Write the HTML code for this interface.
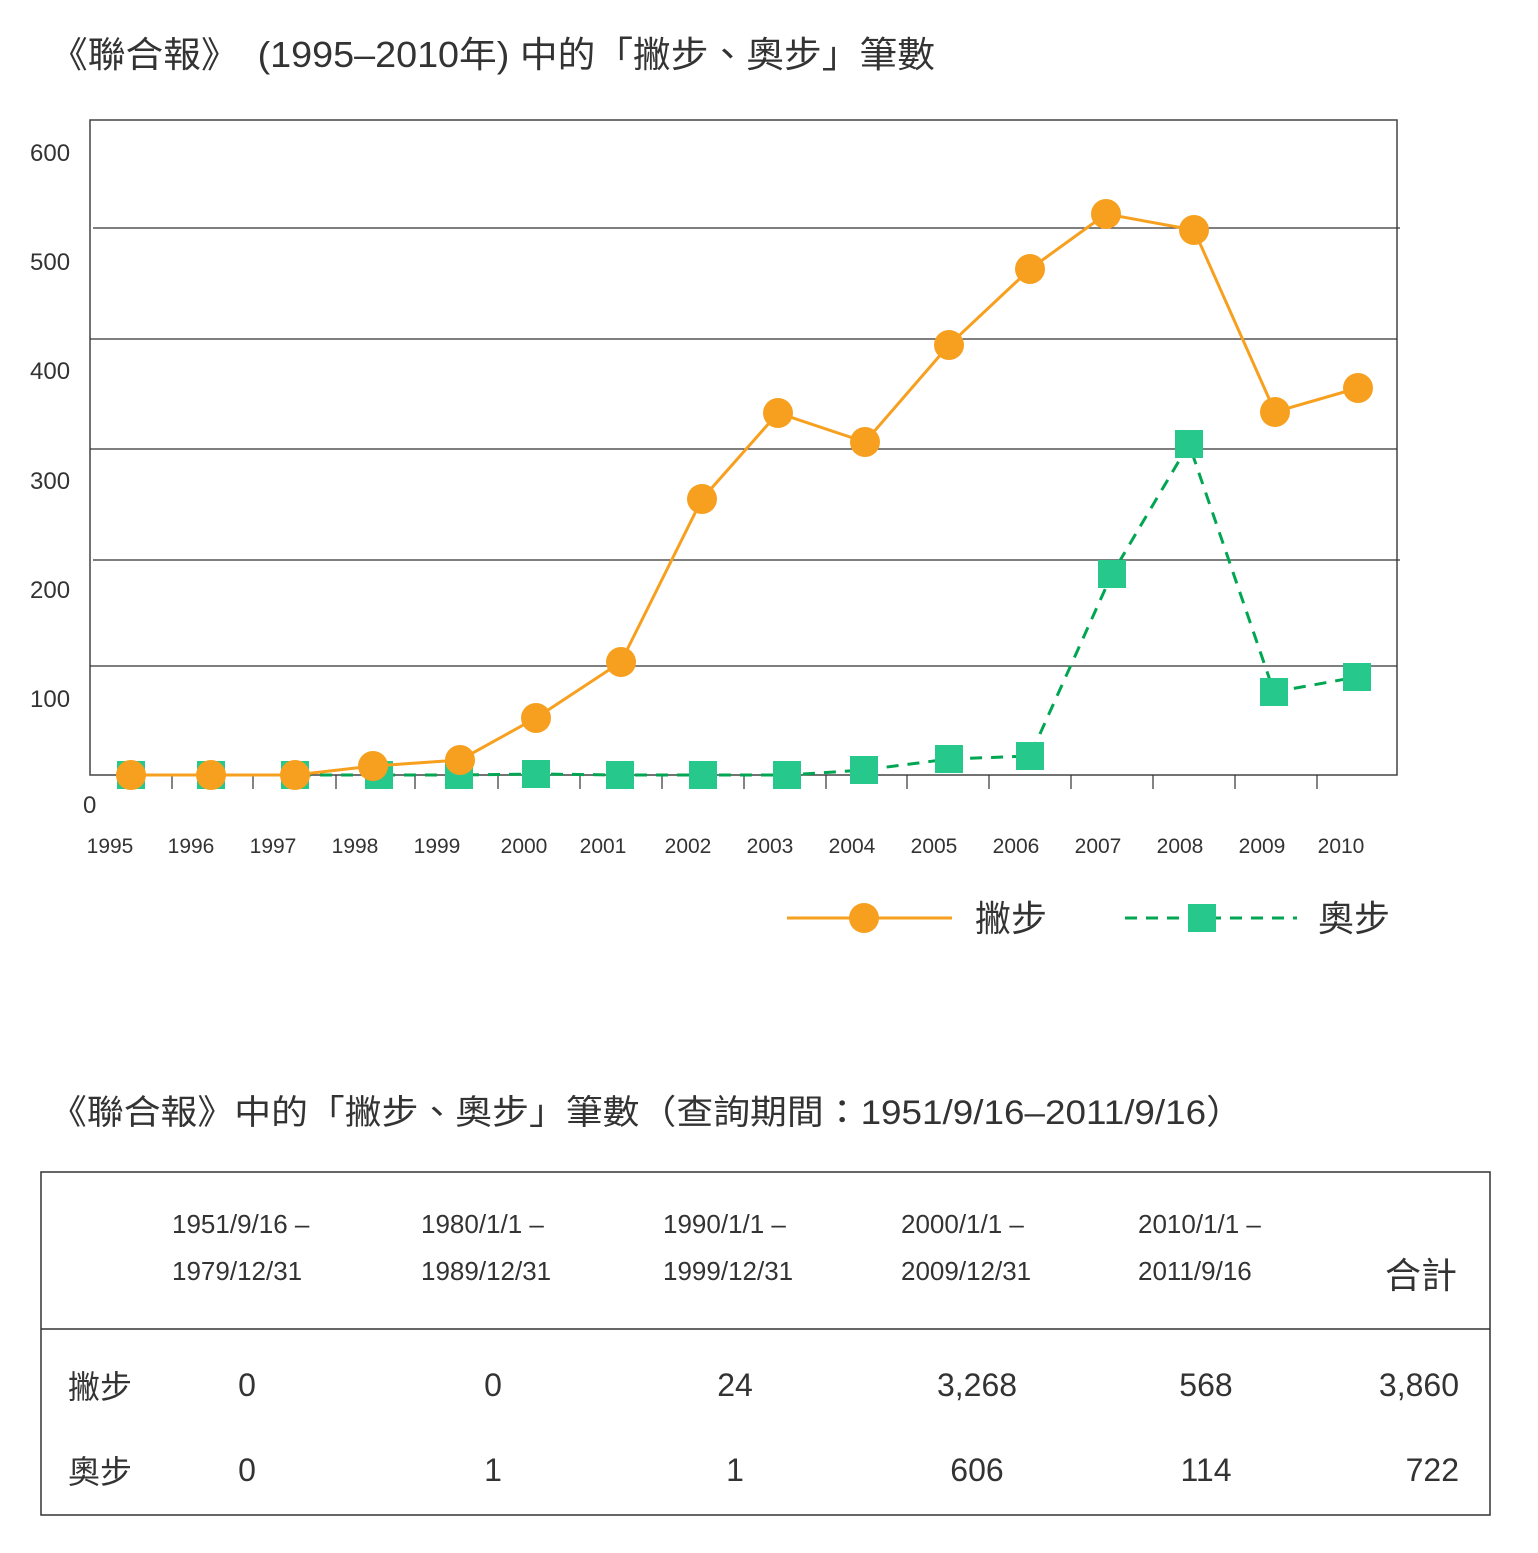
<!DOCTYPE html>
<html><head><meta charset="utf-8"><style>
body{margin:0;background:#fff}
svg text{font-family:"Liberation Sans","Noto Sans CJK TC",sans-serif;fill:#333}
</style></head><body>
<svg width="1538" height="1548" xmlns="http://www.w3.org/2000/svg">
<text x="50" y="67" font-size="36" textLength="885" lengthAdjust="spacingAndGlyphs">《聯合報》　(1995–2010年) 中的「撇步、奧步」筆數</text>
<rect x="90" y="120" width="1307" height="655" fill="none" stroke="#444" stroke-width="1.5"/>
<g stroke="#333" stroke-width="1.2">
<line x1="93" y1="228" x2="1400" y2="228"/><line x1="90" y1="339" x2="1397" y2="339"/>
<line x1="90" y1="449" x2="1397" y2="449"/><line x1="93" y1="560" x2="1400" y2="560"/>
<line x1="90" y1="666" x2="1397" y2="666"/>
<path d="M172 775v14M253 775v14M336 775v14M415 775v14M498 775v14M580 775v14M662 775v14M744 775v14M826 775v14M907 775v14M989 775v14M1071 775v14M1153 775v14M1235 775v14M1317 775v14"/>
</g>
<g font-size="24">
<text x="30" y="161">600</text><text x="30" y="270">500</text><text x="30" y="379">400</text>
<text x="30" y="489">300</text><text x="30" y="598">200</text><text x="30" y="707">100</text>
<text x="83" y="813">0</text>
</g>
<g font-size="21" text-anchor="middle">
<text x="110" y="853">1995</text><text x="191" y="853">1996</text><text x="273" y="853">1997</text><text x="355" y="853">1998</text><text x="437" y="853">1999</text><text x="524" y="853">2000</text><text x="603" y="853">2001</text><text x="688" y="853">2002</text><text x="770" y="853">2003</text><text x="852" y="853">2004</text><text x="934" y="853">2005</text><text x="1016" y="853">2006</text><text x="1098" y="853">2007</text><text x="1180" y="853">2008</text><text x="1262" y="853">2009</text><text x="1341" y="853">2010</text>
</g>
<polyline fill="none" stroke="#00a651" stroke-width="3" stroke-dasharray="12,9" points="131,775 211,775 295,775 379,775 459,775 536,774 620,775 703,775 787,775 864,770 949,759 1030,756 1112,574 1189,444 1274,692 1357,677"/>
<g fill="#26c98b">
<rect x="117" y="761" width="28" height="28"/><rect x="197" y="761" width="28" height="28"/><rect x="281" y="761" width="28" height="28"/><rect x="365" y="761" width="28" height="28"/><rect x="445" y="761" width="28" height="28"/><rect x="522" y="760" width="28" height="28"/><rect x="606" y="761" width="28" height="28"/><rect x="689" y="761" width="28" height="28"/><rect x="773" y="761" width="28" height="28"/><rect x="850" y="756" width="28" height="28"/><rect x="935" y="745" width="28" height="28"/><rect x="1016" y="742" width="28" height="28"/><rect x="1098" y="560" width="28" height="28"/><rect x="1175" y="430" width="28" height="28"/><rect x="1260" y="678" width="28" height="28"/><rect x="1343" y="663" width="28" height="28"/>
</g>
<polyline fill="none" stroke="#f7a01f" stroke-width="3" points="131,775 211,775 295,775 373,766 460,760 536,718 621,662 702,499 778,413 865,442 949,345 1030,269 1106,214 1194,230 1275,412 1358,388"/>
<g fill="#f7a01f">
<circle cx="131" cy="775" r="15"/><circle cx="211" cy="775" r="15"/><circle cx="295" cy="775" r="15"/><circle cx="373" cy="766" r="15"/><circle cx="460" cy="760" r="15"/><circle cx="536" cy="718" r="15"/><circle cx="621" cy="662" r="15"/><circle cx="702" cy="499" r="15"/><circle cx="778" cy="413" r="15"/><circle cx="865" cy="442" r="15"/><circle cx="949" cy="345" r="15"/><circle cx="1030" cy="269" r="15"/><circle cx="1106" cy="214" r="15"/><circle cx="1194" cy="230" r="15"/><circle cx="1275" cy="412" r="15"/><circle cx="1358" cy="388" r="15"/>
</g>
<line x1="787" y1="918" x2="952" y2="918" stroke="#f7a01f" stroke-width="3"/>
<circle cx="864" cy="918" r="15" fill="#f7a01f"/>
<text x="975" y="931" font-size="36">撇步</text>
<line x1="1125" y1="918" x2="1297" y2="918" stroke="#00a651" stroke-width="3" stroke-dasharray="12,9"/>
<rect x="1188" y="904" width="28" height="28" fill="#26c98b"/>
<text x="1318" y="931" font-size="36">奧步</text>

<text x="50" y="1124" font-size="34" textLength="1193" lengthAdjust="spacingAndGlyphs">《聯合報》中的「撇步、奧步」筆數（查詢期間：1951/9/16–2011/9/16）</text>
<rect x="41" y="1172" width="1449" height="343" fill="none" stroke="#333" stroke-width="1.5"/>
<line x1="41" y1="1329" x2="1490" y2="1329" stroke="#333" stroke-width="1.5"/>
<g font-size="26">
<text x="172" y="1233">1951/9/16 –</text><text x="172" y="1280">1979/12/31</text>
<text x="421" y="1233">1980/1/1 –</text><text x="421" y="1280">1989/12/31</text>
<text x="663" y="1233">1990/1/1 –</text><text x="663" y="1280">1999/12/31</text>
<text x="901" y="1233">2000/1/1 –</text><text x="901" y="1280">2009/12/31</text>
<text x="1138" y="1233">2010/1/1 –</text><text x="1138" y="1280">2011/9/16</text>
<text x="1385" y="1288" font-size="36">合計</text>
</g>
<g font-size="32">
<text x="68" y="1398">撇步</text><text x="68" y="1483">奧步</text>
<g text-anchor="middle">
<text x="247" y="1396">0</text><text x="493" y="1396">0</text><text x="735" y="1396">24</text><text x="977" y="1396">3,268</text><text x="1206" y="1396">568</text>
<text x="247" y="1481">0</text><text x="493" y="1481">1</text><text x="735" y="1481">1</text><text x="977" y="1481">606</text><text x="1206" y="1481">114</text>
</g>
<g text-anchor="end"><text x="1459" y="1396">3,860</text><text x="1459" y="1481">722</text></g>
</g>
</svg>
</body></html>
